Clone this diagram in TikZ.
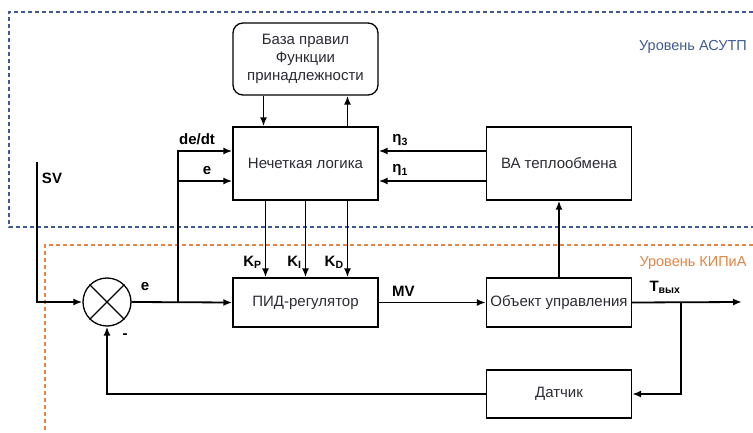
\documentclass[tikz,border=0pt]{standalone}
\usepackage{fontspec}
\setmainfont{Liberation Sans}
\usetikzlibrary{arrows.meta}

\definecolor{asutpblue}{HTML}{3F5A96}
\definecolor{kipiaorange}{HTML}{E58444}
\definecolor{boxtext}{HTML}{2A2A33}

\tikzset{
  block/.style = {draw, line width=1.3pt, minimum width=145pt, align=center,
                  text=boxtext, font=\fontsize{15}{18}\selectfont},
  sig/.style   = {line width=1.8pt, -{Latex[length=9pt,width=7pt]}},
  lbl/.style   = {font=\bfseries\fontsize{15}{17}\selectfont, inner sep=1pt},
  level/.style = {font=\fontsize{14.5}{17}\selectfont},
  frame/.style = {line width=1.1pt, dash pattern=on 4pt off 3pt},
}

\begin{document}
\begin{tikzpicture}[x=1pt, y=-1pt]
   \useasboundingbox (0,0) rectangle (753,433);

   \draw[frame, asutpblue] (753,12) -- (9,12) -- (9,227) -- (753,227);
   \draw[frame, kipiaorange] (753,245) -- (45,245) -- (45,433);
   \node[level, text=asutpblue] (lvlasutp) at (693,47) {Уровень АСУТП};
   \node[level, text=kipiaorange] (lvlkipia) at (693,263) {Уровень КИПиА};

   \node[block, rounded corners=10pt, minimum height=72pt] (base) at (305.5,59)
      {База правил\\Функции\\принадлежности};
   \node[block, minimum height=73pt] (fuzzy) at (305.5,163.5) {Нечеткая логика};
   \node[block, minimum height=49pt] (pid) at (305.5,302.5) {ПИД-регулятор};
   \node[block, minimum height=73pt] (ba) at (559,163.5) {ВА теплообмена};
   \node[block, minimum height=49pt, inner sep=1pt] (plant) at (559,302.5) {Объект управления};
   \node[block, minimum height=48pt] (sensor) at (559,394) {Датчик};
   \node[draw, circle, line width=1.3pt, minimum size=48pt] (sum) at (107,302) {};
   \draw[line width=1.3pt] (sum.north west) -- (sum.south east)
                           (sum.north east) -- (sum.south west);

   \coordinate (sv) at (37,162);
   \coordinate (jn) at (178,302);
   \coordinate (tap) at (681,302);
   \coordinate (out) at (742,302);

   \draw[sig] ([xshift=-42pt]base.south) -- ([xshift=-42pt]fuzzy.north);
   \draw[sig] ([xshift=42pt]fuzzy.north) -- ([xshift=42pt]base.south);

   \draw[sig] (sv) |- (sum.west);
   \node[lbl] (svlbl) at (52,178) {SV};
   \draw[sig] (sum.east) -- (pid.west);
   \node[lbl] (elbl) at (145,287) {e};
   \node[lbl] (minus) at (125,336) {-};
   \draw[sig] (jn) |- ([yshift=12.5pt]fuzzy.west);
   \draw[sig] (jn) |- ([yshift=-17.5pt]fuzzy.west);
   \node[lbl] (dedt) at (197,139) {de/dt};
   \node[lbl] (elbl2) at (207,171) {e};

   \draw[sig] ([xshift=-40pt]fuzzy.south) -- node[lbl, pos=0.8, left=2pt] {K\textsubscript{P}} ([xshift=-40pt]pid.north);
   \draw[sig] (fuzzy.south) -- node[lbl, pos=0.8, left=2pt] {K\textsubscript{I}} (pid.north);
   \draw[sig] ([xshift=42pt]fuzzy.south) -- node[lbl, pos=0.8, left=2pt] {K\textsubscript{D}} ([xshift=42pt]pid.north);

   \draw[sig] ([yshift=12.5pt]ba.west) -- node[lbl, pos=0.8, above=3pt] {η\textsubscript{3}} ([yshift=12.5pt]fuzzy.east);
   \draw[sig] ([yshift=-17.5pt]ba.west) -- node[lbl, pos=0.8, above=3pt] {η\textsubscript{1}} ([yshift=-17.5pt]fuzzy.east);

   \draw[sig] (pid.east) -- node[lbl, pos=0.23, above=4pt] {MV} (plant.west);
   \draw[sig] (plant.north) -- (ba.south);
   \draw[sig] (plant.east) -- (out);
   \node[lbl] (tout) at (665,287) {T\textsubscript{вых}};
   \draw[sig] (tap) |- (sensor.east);
   \draw[sig] (sensor.west) -| (sum.south);
\end{tikzpicture}
\end{document}
